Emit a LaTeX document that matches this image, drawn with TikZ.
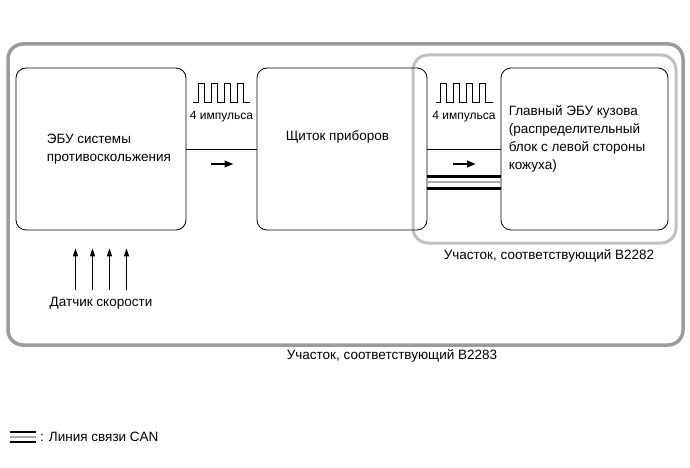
\documentclass[tikz,border=0pt]{standalone}
\usepackage{fontspec}
\setmainfont{Liberation Sans}
\usetikzlibrary{arrows.meta, calc, positioning}
\definecolor{framegray}{RGB}{155,155,155}
\definecolor{zonegray}{RGB}{192,192,192}
\definecolor{cangray}{RGB}{170,170,170}

\begin{document}
\begin{tikzpicture}[x=1pt, y=-1pt,
    ecu/.style={draw, rounded corners=10pt, inner sep=0pt, line width=0.8pt, minimum height=162pt},
    txt/.style={font=\fontsize{13.5}{18}\selectfont, inner sep=0pt, align=left},
    small/.style={font=\fontsize{12}{14}\selectfont, inner sep=0pt},
    sig/.style={line width=2pt, -{Triangle[length=9pt, width=6.5pt]}},
    speed/.style={line width=1pt, -{Triangle[length=8pt, width=5pt]}},
    canbus/.style={black, line width=3pt},
    canmid/.style={cangray, line width=2pt}]
    \useasboundingbox (0,0) rectangle (690,468);

    % Zones
    \draw[framegray, line width=3.5pt, rounded corners=15pt] (8,44) rectangle (683,345);
    \draw[zonegray, line width=3pt, rounded corners=15pt] (413,55) rectangle (676,243);

    % ECUs
    \node[ecu, minimum width=170pt] (abs) at (101,149) {};
    \node[ecu, minimum width=170pt] (meter) at (342,149) {};
    \node[ecu, minimum width=167pt] (body) at (584.5,149) {};
    \node[txt, anchor=west] (abstxt) at ($(abs.west)+(31,0)$) {ЭБУ системы\\противоскольжения};
    \node[txt, anchor=west] (metertxt) at ($(meter.west)+(29,-12)$) {Щиток приборов};
    \node[txt, anchor=west] (bodytxt) at ($(body.west)+(8,-10)$) {Главный ЭБУ кузова\\(распределительный\\блок с левой стороны\\кожуха)};

    % Pulse lines
    \coordinate (m1) at ($(abs.east)!0.5!(meter.west)$);
    \coordinate (m2) at ($(meter.east)!0.5!(body.west)$);
    \foreach \m in {m1, m2} {
        \draw[line width=0.8pt] ($(\m)+(-28.5,-47)$) -- ++(5,0)
            \foreach \i in {1,...,4} { -- ++(0,-19) -- ++(6,0) -- ++(0,19) -- ++(7,0) };
        \node[small] (\m lbl) at ($(\m)+(0,-32)$) {4 импульса};
        \draw[sig] ($(\m)+(-11,15)$) -- ($(\m)+(12,15)$);
    }
    \draw[line width=0.8pt] (abs.east) -- (meter.west);
    \draw[line width=0.8pt] (meter.east) -- (body.west);

    % CAN
    \draw[canbus] ($(meter.east)+(0,27)$) -- ($(body.west)+(0,27)$);
    \draw[canmid] ($(meter.east)+(0,33)$) -- ($(body.west)+(0,33)$);
    \draw[canbus] ($(meter.east)+(0,39)$) -- ($(body.west)+(0,39)$);

    % Speed sensor
    \foreach \dx in {-25.5,-8.5,8.5,25.5}
        \draw[speed] ($(abs.south)+(\dx,60)$) -- ($(abs.south)+(\dx,18)$);
    \node[txt] (sensor) at ($(abs.south)+(0,73)$) {Датчик скорости};

    % Zone labels
    \node[txt] (b2282) at (549,256) {Участок, соответствующий B2282};
    \node[txt] (b2283) at (392,356) {Участок, соответствующий B2283};

    % Legend
    \draw[black, line width=2.5pt] (10,432) -- (36,432);
    \draw[cangray, line width=1.5pt] (10,437) -- (36,437);
    \draw[black, line width=2.5pt] (10,442) -- (36,442);
    \node[txt, anchor=west] (legend) at (40,437) {: Линия связи CAN};
\end{tikzpicture}
\end{document}
